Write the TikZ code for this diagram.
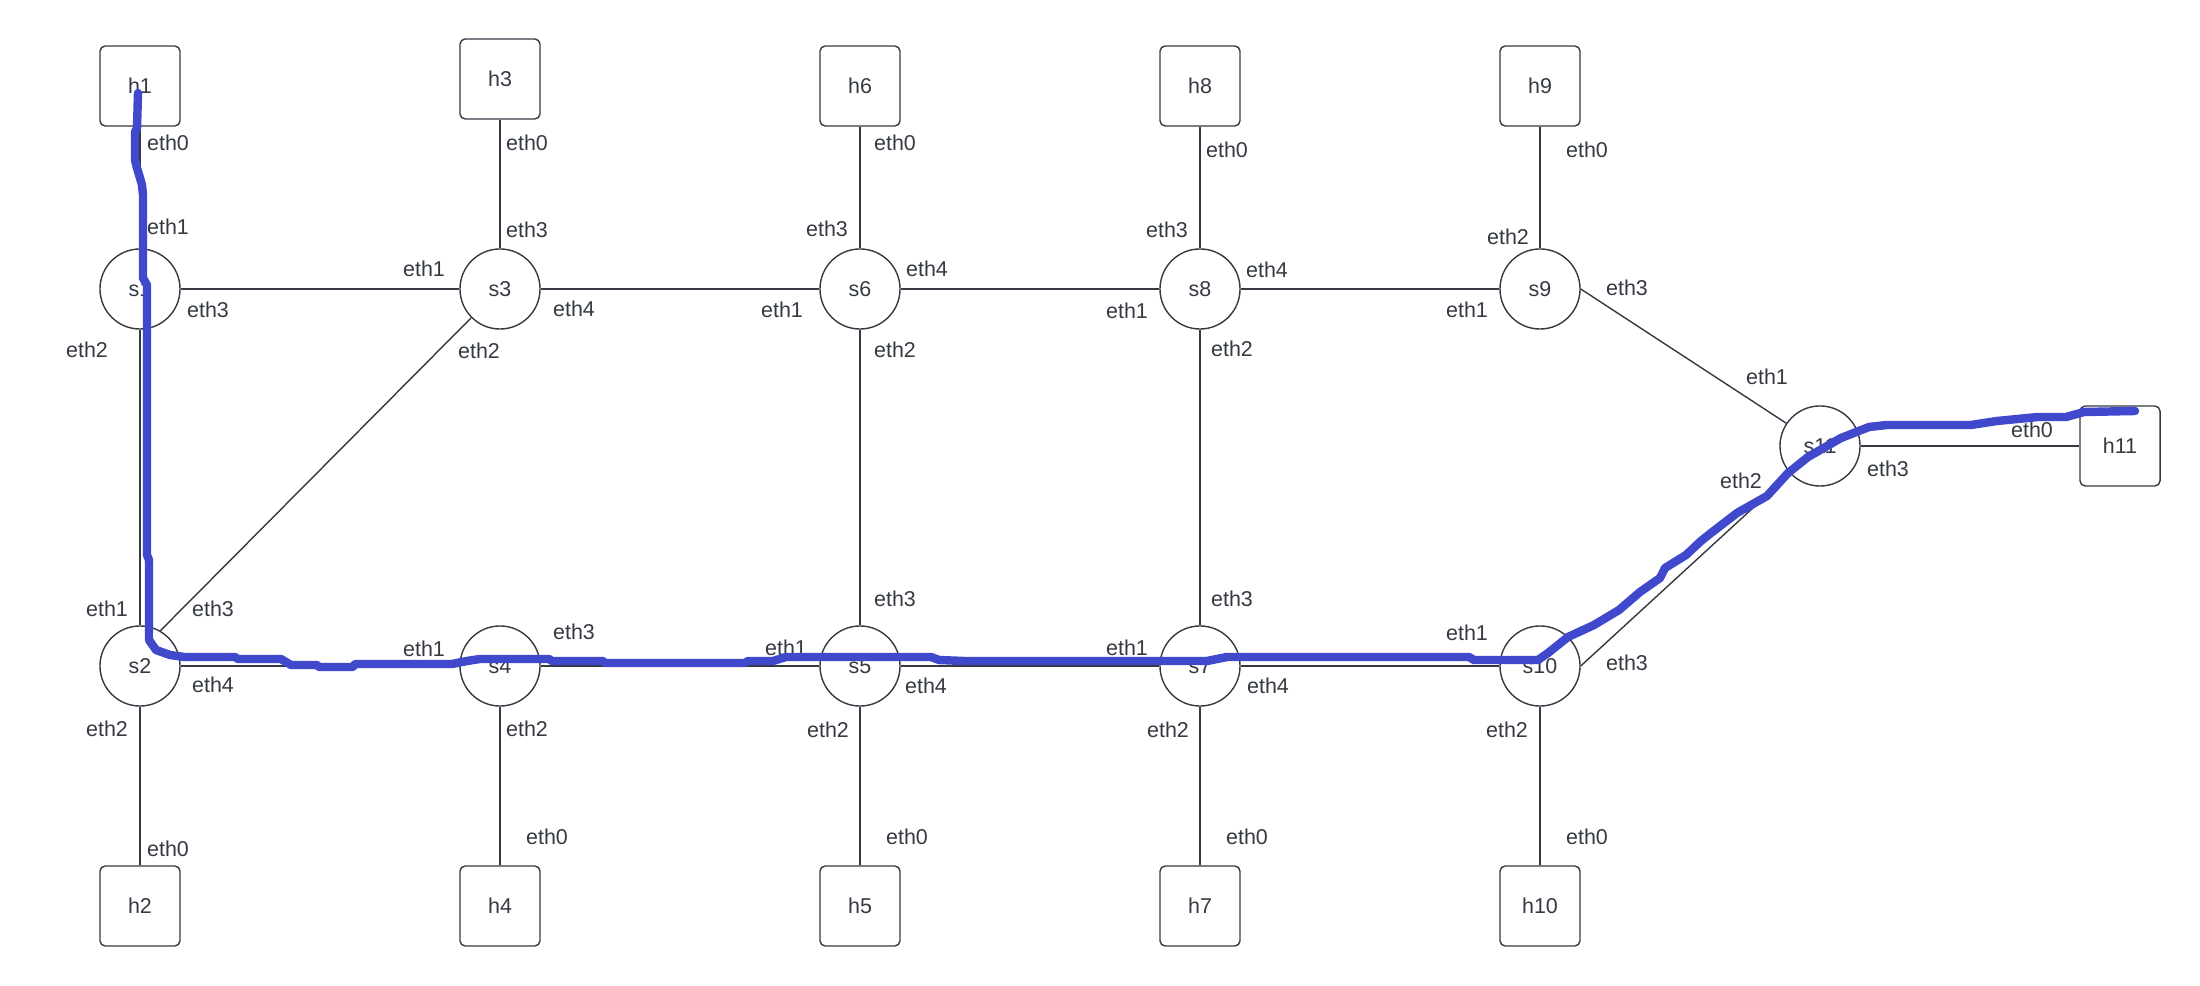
\documentclass[tikz,border=0pt]{standalone}
\usepackage{fontspec}
\setmainfont{Liberation Sans}
\definecolor{trait}{RGB}{52,57,66}
\definecolor{chemin}{RGB}{64,72,204}

\begin{document}
\begin{tikzpicture}[x=0.01cm, y=-0.01cm,
  font=\fontsize{6.1pt}{7pt}\selectfont,
  commutateur/.style={circle, draw=trait, line width=0.4pt, minimum size=0.8cm, inner sep=0pt, text=trait},
  hote/.style={rectangle, rounded corners=1.5pt, draw=trait, line width=0.4pt, minimum size=0.8cm, inner sep=0pt, text=trait},
  lien/.style={draw=trait, line width=0.4pt},
  port/.style={text=trait, inner sep=0pt}]

  % cadre de l'image
  \useasboundingbox (0,0) rectangle (2200,986);

  % ==========================================
  % SECTION 1 : HOTES ET COMMUTATEURS
  % ==========================================
  % rangée du haut
  \node[hote] (h1) at (140,86) {h1};
  \node[hote] (h3) at (500,79) {h3};
  \node[hote] (h6) at (860,86) {h6};
  \node[hote] (h8) at (1200,86) {h8};
  \node[hote] (h9) at (1540,86) {h9};

  \node[commutateur] (s1) at (140,289) {s1};
  \node[commutateur] (s3) at (500,289) {s3};
  \node[commutateur] (s6) at (860,289) {s6};
  \node[commutateur] (s8) at (1200,289) {s8};
  \node[commutateur] (s9) at (1540,289) {s9};

  % à droite
  \node[commutateur] (s11) at (1820,446) {s11};
  \node[hote] (h11) at (2120,446) {h11};

  % rangée du bas
  \node[commutateur] (s2) at (140,666) {s2};
  \node[commutateur] (s4) at (500,666) {s4};
  \node[commutateur] (s5) at (860,666) {s5};
  \node[commutateur] (s7) at (1200,666) {s7};
  \node[commutateur] (s10) at (1540,666) {s10};

  \node[hote] (h2) at (140,906) {h2};
  \node[hote] (h4) at (500,906) {h4};
  \node[hote] (h5) at (860,906) {h5};
  \node[hote] (h7) at (1200,906) {h7};
  \node[hote] (h10) at (1540,906) {h10};

  % ==========================================
  % SECTION 2 : LIENS
  % ==========================================
  % hôtes vers commutateurs
  \draw[lien] (h1) -- (s1);
  \draw[lien] (h3) -- (s3);
  \draw[lien] (h6) -- (s6);
  \draw[lien] (h8) -- (s8);
  \draw[lien] (h9) -- (s9);
  \draw[lien] (s2) -- (h2);
  \draw[lien] (s4) -- (h4);
  \draw[lien] (s5) -- (h5);
  \draw[lien] (s7) -- (h7);
  \draw[lien] (s10) -- (h10);
  \draw[lien] (s11) -- (h11);

  % entre commutateurs
  \draw[lien] (s1) -- (s3);
  \draw[lien] (s3) -- (s6);
  \draw[lien] (s6) -- (s8);
  \draw[lien] (s8) -- (s9);
  \draw[lien] (s1) -- (s2);
  \draw[lien] (s2.60) -- (s3.225);
  \draw[lien] (s6) -- (s5);
  \draw[lien] (s8) -- (s7);
  \draw[lien] (s2) -- (s4);
  \draw[lien] (s4) -- (s5);
  \draw[lien] (s5) -- (s7);
  \draw[lien] (s7) -- (s10);
  \draw[lien] (s9.0) -- (s11.146);
  \draw[lien] (s10.0) -- (s11.223);

  % ==========================================
  % SECTION 3 : NOMS DES INTERFACES
  % ==========================================
  % h1, s1
  \node[port] (h1-0) at (168,143) {eth0};
  \node[port] (s1-1) at (168,227) {eth1};
  \node[port] (s1-3) at (208,310) {eth3};
  \node[port] (s1-2) at (87,350) {eth2};
  % h3, s3
  \node[port] (h3-0) at (527,143) {eth0};
  \node[port] (s3-3) at (527,230) {eth3};
  \node[port] (s3-1) at (424,269) {eth1};
  \node[port] (s3-4) at (574,309) {eth4};
  \node[port] (s3-2) at (479,351) {eth2};
  % h6, s6
  \node[port] (h6-0) at (895,143) {eth0};
  \node[port] (s6-3) at (827,229) {eth3};
  \node[port] (s6-4) at (927,269) {eth4};
  \node[port] (s6-1) at (782,310) {eth1};
  \node[port] (s6-2) at (895,350) {eth2};
  % h8, s8
  \node[port] (h8-0) at (1227,150) {eth0};
  \node[port] (s8-3) at (1167,230) {eth3};
  \node[port] (s8-4) at (1267,270) {eth4};
  \node[port] (s8-1) at (1127,311) {eth1};
  \node[port] (s8-2) at (1232,349) {eth2};
  % h9, s9
  \node[port] (h9-0) at (1587,150) {eth0};
  \node[port] (s9-2) at (1508,237) {eth2};
  \node[port] (s9-3) at (1627,288) {eth3};
  \node[port] (s9-1) at (1467,310) {eth1};
  % s11, h11
  \node[port] (s11-1) at (1767,377) {eth1};
  \node[port] (h11-0) at (2032,430) {eth0};
  \node[port] (s11-3) at (1888,469) {eth3};
  \node[port] (s11-2) at (1741,481) {eth2};
  % s2, h2
  \node[port] (s2-1) at (107,609) {eth1};
  \node[port] (s2-3) at (213,609) {eth3};
  \node[port] (s2-4) at (213,685) {eth4};
  \node[port] (s2-2) at (107,729) {eth2};
  \node[port] (h2-0) at (168,849) {eth0};
  % s4, h4
  \node[port] (s4-3) at (574,632) {eth3};
  \node[port] (s4-1) at (424,649) {eth1};
  \node[port] (s4-2) at (527,729) {eth2};
  \node[port] (h4-0) at (547,837) {eth0};
  % s5, h5
  \node[port] (s5-3) at (895,599) {eth3};
  \node[port] (s5-1) at (786,648) {eth1};
  \node[port] (s5-4) at (926,686) {eth4};
  \node[port] (s5-2) at (828,730) {eth2};
  \node[port] (h5-0) at (907,837) {eth0};
  % s7, h7
  \node[port] (s7-3) at (1232,599) {eth3};
  \node[port] (s7-1) at (1127,648) {eth1};
  \node[port] (s7-4) at (1268,686) {eth4};
  \node[port] (s7-2) at (1168,730) {eth2};
  \node[port] (h7-0) at (1247,837) {eth0};
  % s10, h10
  \node[port] (s10-1) at (1467,633) {eth1};
  \node[port] (s10-3) at (1627,663) {eth3};
  \node[port] (s10-2) at (1507,730) {eth2};
  \node[port] (h10-0) at (1587,837) {eth0};

  % ==========================================
  % SECTION 4 : CHEMIN DE h1 A h11 (tracé à main levée)
  % ==========================================
  \draw[chemin, line width=2.4pt, line cap=round, line join=round]
    (138,93) -- (137,128) -- (135,132) -- (135,160) -- (137,168) -- (140,178)
    -- (142,185) -- (143,195) -- (143,278) -- (147,285) -- (147,555)
    -- (149,560) -- (149,640) -- (156,650) -- (170,655) -- (184,657)
    -- (235,657) -- (238,659) -- (281,659) -- (291,665) -- (317,665)
    -- (319,667) -- (353,667) -- (355,664) -- (452,664) -- (467,661)
    -- (480,659) -- (549,659) -- (552,661) -- (603,661) -- (605,663)
    -- (745,663) -- (748,661) -- (773,661) -- (786,657) -- (931,657)
    -- (939,660) -- (964,661) -- (1207,661) -- (1227,657) -- (1469,657)
    -- (1474,660) -- (1538,660) -- (1548,653) -- (1568,637) -- (1594,625)
    -- (1619,610) -- (1640,592) -- (1660,578) -- (1665,568) -- (1686,555)
    -- (1701,541) -- (1711,533) -- (1737,513) -- (1767,496) -- (1788,473)
    -- (1808,457) -- (1841,438) -- (1869,427) -- (1887,425) -- (1971,425)
    -- (1997,421) -- (2038,417) -- (2066,417) -- (2084,412) -- (2135,411);

\end{tikzpicture}
\end{document}
